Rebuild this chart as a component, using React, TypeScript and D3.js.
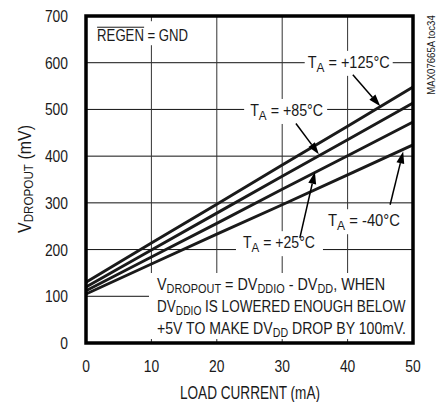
import React, { useLayoutEffect, useRef, useState } from "react";
import * as d3 from "d3";

// ---- data ----
const loadCurrent = [0, 10, 20, 30, 40, 50];
const t125 = [130, 214, 297, 381, 464, 548];
const t85 = [120, 199, 278, 357, 435, 514];
const t25 = [112, 184, 256, 329, 401, 473];
const tm40 = [105, 169, 233, 296, 360, 424];
const seriesNames = ["+125°C", "+85°C", "+25°C", "-40°C"];
const xTickValues = [0, 10, 20, 30, 40, 50];
const yTickValues = [0, 100, 200, 300, 400, 500, 600, 700];

const FONT = "'Liberation Sans', Arial, sans-serif";
const INK = "#1a1a1a";

// annotation layout (data coordinates)
const annotations = [
  { name: seriesNames[0], tx: 33.9, ty: 589, w: 82, boxL: 3, boxW: 88, ax: 40.8, ay: 574, hx: 45.0, hy: 507 },
  { name: seriesNames[1], tx: 25.1, ty: 486, w: 73, boxL: 6, boxW: 83, ax: 32.1, ay: 470, hx: 35.6, hy: 404 },
  { name: seriesNames[2], tx: 24.0, ty: 203, w: 72, boxL: 7, boxW: 87, ax: 32.7, ay: 225, hx: 35.0, hy: 366 },
  { name: seriesNames[3], tx: 37.0, ty: 250, w: 72, boxL: 3, boxW: 78, ax: 46.5, ay: 296, hx: 48.5, hy: 410 },
];

type FitProps = {
  x: number;
  y: number;
  width: number;
  fontSize: number;
  anchor?: "start" | "middle" | "end";
  rotate?: number;
  children: React.ReactNode;
};

function FitText({ x, y, width, fontSize, anchor = "start", rotate = 0, children }: FitProps) {
  const ref = useRef<SVGTextElement>(null);
  const [s, setS] = useState(0.85);
  useLayoutEffect(() => {
    if (ref.current) {
      const w = ref.current.getBBox().width;
      if (w > 0) setS(width / w);
    }
  }, [width]);
  return (
    <g transform={`translate(${x},${y}) rotate(${rotate})`}>
      <g transform={`scale(${s},1)`}>
        <text ref={ref} x={0} y={0} fontSize={fontSize} textAnchor={anchor} fill={INK}>
          {children}
        </text>
      </g>
    </g>
  );
}

export default function App() {
  const x = d3.scaleLinear().domain([0, 50]).range([86, 413]);
  const y = d3.scaleLinear().domain([0, 700]).range([343, 16]);
  const series = [t125, t85, t25, tm40];
  const line = d3
    .line<number>()
    .x((_, i) => x(loadCurrent[i]))
    .y((d) => y(d));

  const arrow = (x1: number, y1: number, x2: number, y2: number, key: string) => {
    const dx = x2 - x1;
    const dy = y2 - y1;
    const len = Math.sqrt(dx * dx + dy * dy);
    const ux = dx / len;
    const uy = dy / len;
    const hl = 12;
    const hw = 4;
    const bx = x2 - ux * hl;
    const by = y2 - uy * hl;
    const pts = [
      [x2, y2],
      [bx - uy * hw, by + ux * hw],
      [bx + uy * hw, by - ux * hw],
    ];
    return (
      <g key={key}>
        <line x1={x1} y1={y1} x2={bx} y2={by} stroke="#000" strokeWidth={1.5} />
        <polygon points={pts.map((p) => p.join(",")).join(" ")} fill="#000" />
      </g>
    );
  };

  return (
    <svg
      width={438}
      height={402}
      style={{ position: "absolute", left: 0, top: 0, background: "#fff" }}
      fontFamily={FONT}
    >
      <rect x={0} y={0} width={438} height={402} fill="#fff" />
      {/* grid */}
      {yTickValues.slice(1, -1).map((v) => (
        <line key={"gy" + v} x1={x(0)} x2={x(50)} y1={y(v)} y2={y(v)} stroke="#111" strokeWidth={1} />
      ))}
      {xTickValues.slice(1, -1).map((v) => (
        <line key={"gx" + v} x1={x(v)} x2={x(v)} y1={y(0)} y2={y(700)} stroke="#333" strokeWidth={1} />
      ))}

      {/* white boxes behind labels */}
      <rect x={x(1.7) - 2} y={y(646) - 20} width={95} height={24} fill="#fff" />
      {annotations.map((a) => (
        <rect key={"bx" + a.name} x={x(a.tx) - a.boxL} y={y(a.ty) - 17} width={a.boxW} height={25} fill="#fff" />
      ))}
      <rect x={149} y={273} width={263} height={66} fill="#fff" />

      {/* data lines */}
      {series.map((s, i) => (
        <path key={"s" + i} d={line(s) || ""} fill="none" stroke={INK} strokeWidth={2.9} />
      ))}

      {/* arrows */}
      {annotations.map((a) => arrow(x(a.ax), y(a.ay), x(a.hx), y(a.hy), "ar" + a.name))}

      {/* labels */}
      <FitText x={x(1.7)} y={y(646)} width={91} fontSize={16.5}>
        REGEN = GND
      </FitText>
      <line x1={x(1.7)} x2={x(1.7) + 47} y1={y(646) - 14} y2={y(646) - 14} stroke={INK} strokeWidth={1} />
      {annotations.map((a) => (
        <FitText key={"lb" + a.name} x={x(a.tx)} y={y(a.ty)} width={a.w} fontSize={16.5}>
          T<tspan fontSize={13.5} dy={4}>A</tspan>
          <tspan dy={-4}> = {a.name}</tspan>
        </FitText>
      ))}

      {/* footnote */}
      <FitText x={157} y={290} width={228} fontSize={16.5}>
        V<tspan fontSize={12.5} dy={3}>DROPOUT</tspan>
        <tspan dy={-3}> = DV</tspan>
        <tspan fontSize={12.5} dy={3}>DDIO</tspan>
        <tspan dy={-3}> - DV</tspan>
        <tspan fontSize={12.5} dy={3}>DD</tspan>
        <tspan dy={-3}>, WHEN</tspan>
      </FitText>
      <FitText x={157} y={312} width={249} fontSize={16.5}>
        DV<tspan fontSize={12.5} dy={3}>DDIO</tspan>
        <tspan dy={-3}> IS LOWERED ENOUGH BELOW</tspan>
      </FitText>
      <FitText x={157} y={334} width={249} fontSize={16.5}>
        +5V TO MAKE DV<tspan fontSize={12.5} dy={3}>DD</tspan>
        <tspan dy={-3}> DROP BY 100mV.</tspan>
      </FitText>

      {/* border */}
      <rect x={x(0)} y={y(700)} width={x(50) - x(0)} height={y(0) - y(700)} fill="none" stroke="#000" strokeWidth={3.5} />

      {/* tick labels */}
      {yTickValues.map((v) => (
        <FitText key={"ty" + v} x={68} y={y(v) + 6} width={String(v).length * 7.7} fontSize={16.5} anchor="end">
          {v}
        </FitText>
      ))}
      {xTickValues.map((v) => (
        <FitText key={"tx" + v} x={x(v)} y={372} width={String(v).length * 7.7} fontSize={16.5} anchor="middle">
          {v}
        </FitText>
      ))}

      {/* axis titles */}
      <FitText x={250} y={398.5} width={140} fontSize={18.5} anchor="middle">
        LOAD CURRENT (mA)
      </FitText>
      <FitText x={31} y={179} width={108} fontSize={18.5} anchor="middle" rotate={-90}>
        V<tspan fontSize={13.5} dy={2}>DROPOUT</tspan>
        <tspan dy={-2}> (mV)</tspan>
      </FitText>
      <FitText x={435} y={55} width={80} fontSize={10.5} anchor="middle" rotate={-90}>
        MAX07665A toc34
      </FitText>
    </svg>
  );
}
